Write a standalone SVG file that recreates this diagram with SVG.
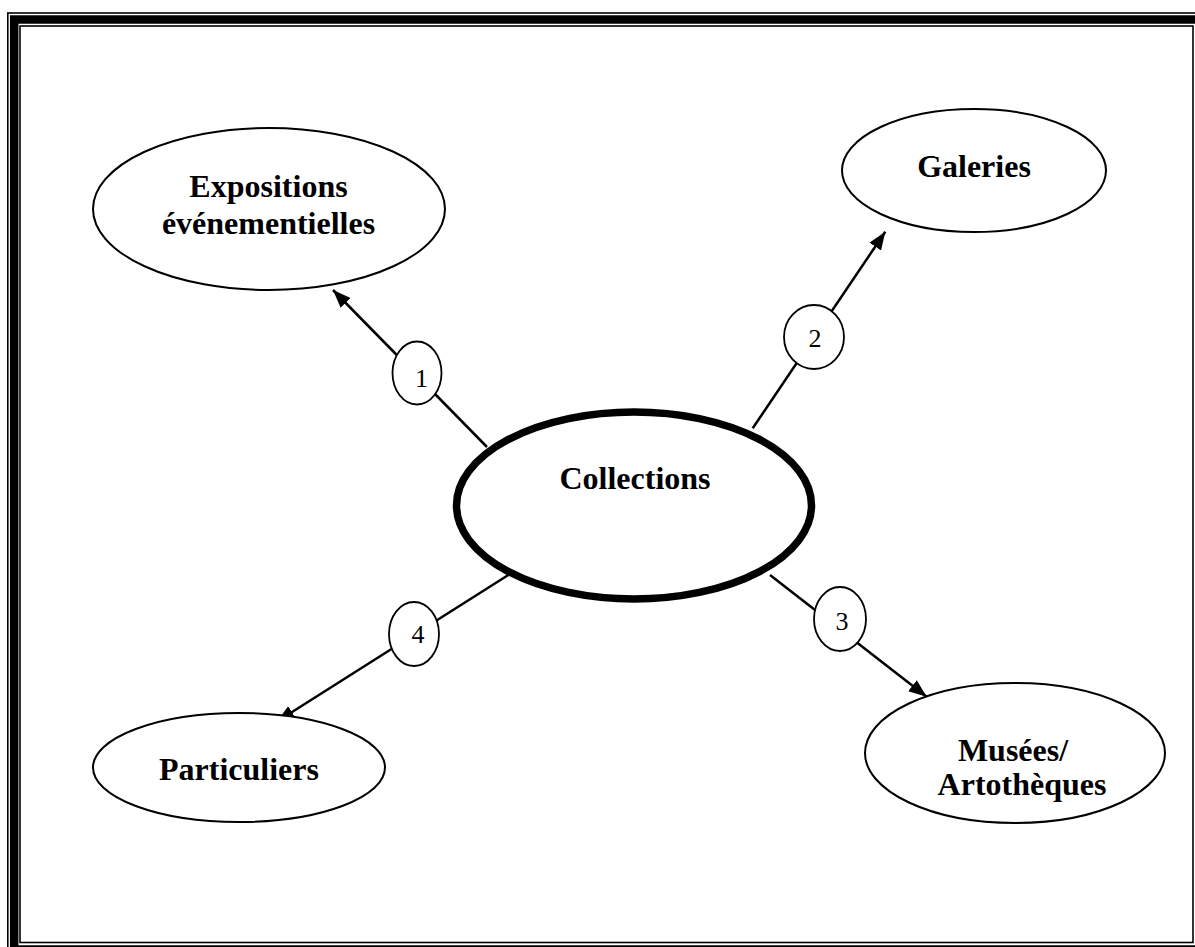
<svg xmlns="http://www.w3.org/2000/svg" width="1195" height="947" viewBox="0 0 1195 947">
<style>
.node{fill:#fff;stroke:#000;stroke-width:2}
.main{fill:#fff;stroke:#000;stroke-width:7.5}
.num{fill:#fff;stroke:#000;stroke-width:1.8}
.lbl{font-family:"Liberation Serif","Times New Roman",serif;font-weight:bold;font-size:32px;fill:#000;text-anchor:middle}
.dig{font-family:"Liberation Serif","Times New Roman",serif;font-size:26px;fill:#000;text-anchor:middle}
.con{stroke:#000;stroke-width:2.5;fill:none}
</style>
<defs>
<marker id="arr" markerUnits="userSpaceOnUse" markerWidth="20" markerHeight="16" viewBox="0 0 20 16" refX="18" refY="8" orient="auto">
<path d="M0,1 L18,8 L0,15 Z" fill="#000"/>
</marker>
</defs>
<rect width="1195" height="947" fill="#fff"/>
<g id="frame" fill="none" stroke="#000">
<rect x="7.8" y="13" width="1200" height="950" stroke-width="1.6"/>
<rect x="14.2" y="19.5" width="1190" height="930" stroke-width="8.5"/>
<rect x="20" y="26" width="1173" height="916.5" stroke-width="1.6"/>
</g>
<g id="connectors">
<line class="con" x1="487" y1="447" x2="333" y2="290" marker-end="url(#arr)"/>
<line class="con" x1="752.7" y1="428.3" x2="885.3" y2="231.7" marker-end="url(#arr)"/>
<line class="con" x1="770" y1="575" x2="926.7" y2="696.7" marker-end="url(#arr)"/>
<line class="con" x1="508.3" y1="575" x2="276.7" y2="721.7" marker-end="url(#arr)"/>
</g>
<g id="n1"><ellipse class="num" cx="417" cy="373" rx="24.5" ry="31.5"/><text class="dig" x="421.5" y="387">1</text></g>
<g id="n2"><ellipse class="num" cx="814" cy="337" rx="30" ry="32"/><text class="dig" x="815" y="347">2</text></g>
<g id="n3"><ellipse class="num" cx="840" cy="619" rx="26" ry="32"/><text class="dig" x="842" y="630">3</text></g>
<g id="n4"><ellipse class="num" cx="414" cy="634" rx="25" ry="32"/><text class="dig" x="418" y="643">4</text></g>
<g id="collections"><ellipse class="main" cx="634" cy="505.5" rx="177.5" ry="93.5"/><text class="lbl" x="635" y="489">Collections</text></g>
<g id="expositions"><ellipse class="node" cx="269" cy="209" rx="176" ry="81"/><text class="lbl" x="268.5" y="197">Expositions</text><text class="lbl" x="268.5" y="234">événementielles</text></g>
<g id="galeries"><ellipse class="node" cx="974" cy="170.5" rx="132" ry="61.5"/><text class="lbl" x="974" y="177">Galeries</text></g>
<g id="particuliers"><ellipse class="node" cx="239" cy="767.5" rx="146" ry="54.5"/><text class="lbl" x="239" y="780">Particuliers</text></g>
<g id="musees"><ellipse class="node" cx="1015" cy="753" rx="150" ry="70"/><text class="lbl" x="1013" y="761">Musées/</text><text class="lbl" x="1022" y="795">Artothèques</text></g>
</svg>
